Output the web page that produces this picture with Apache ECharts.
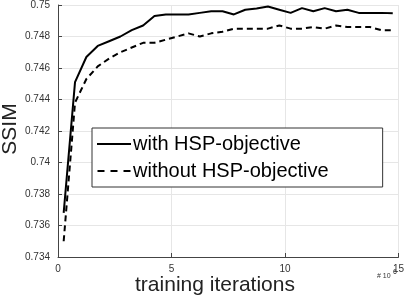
<!DOCTYPE html>
<html><head><meta charset="utf-8">
<script src="https://cdn.jsdelivr.net/npm/echarts@6/dist/echarts.min.js"></script>
<style>html,body{margin:0;padding:0;background:#fff}#c{width:407px;height:300px}</style>
</head><body><div id="c"></div>
<script>
const iterations = [0.25,0.75,1.25,1.75,2.25,2.75,3.25,3.75,4.25,4.75,5.25,5.75,6.25,6.75,7.25,7.75,8.25,8.75,9.25,9.75,10.25,10.75,11.25,11.75,12.25,12.75,13.25,13.75,14.25,14.75];
const withHSP = [0.7368,0.7451,0.7467,0.7474,0.7477,0.7480,0.7484,0.7487,0.7493,0.7494,0.7494,0.7494,0.7495,0.7496,0.7496,0.7494,0.7497,0.74978,0.7499,0.7497,0.7495,0.7498,0.7496,0.7498,0.7496,0.7497,0.7495,0.7495,0.7495,0.74947];
const withoutHSP = [0.7350,0.7438,0.7453,0.7461,0.7466,0.7470,0.7473,0.7476,0.7476,0.7478,0.7480,0.7482,0.7480,0.7482,0.7483,0.7485,0.7485,0.7485,0.7485,0.7487,0.7485,0.7485,0.7486,0.7485,0.7487,0.7486,0.7486,0.7486,0.7484,0.7484];
const seriesNames = ['with HSP-objective','without HSP-objective'];
const xTitle = 'training iterations';
const yTitle = 'SSIM';
const xExponent = '# 10';

const font = 'Liberation Sans, Arial, Helvetica, sans-serif';
const chart = echarts.init(document.getElementById('c'));
const pair = (xs, ys) => xs.map((x,i)=>[x, ys[i]]);
chart.setOption({
  animation:false,
  backgroundColor:'#fff',
  grid:{left:58,right:5.5,top:5,bottom:43},
  xAxis:{type:'value',min:0,max:15,interval:5,
    axisLine:{lineStyle:{color:'#444',width:1}},
    axisTick:{inside:true,length:4,lineStyle:{color:'#444'}},
    axisLabel:{fontFamily:font,fontSize:10,color:'#333',margin:7},
    splitLine:{lineStyle:{color:'#e6e6e6',width:1}}},
  yAxis:{type:'value',min:0.734,max:0.75,interval:0.002,
    axisLine:{show:true,lineStyle:{color:'#444',width:1}},
    axisTick:{show:true,inside:true,length:4,lineStyle:{color:'#444'}},
    axisLabel:{fontFamily:font,fontSize:10,color:'#333',margin:8,formatter:v=>String(+v.toFixed(3))},
    splitLine:{lineStyle:{color:'#e6e6e6',width:1}}},
  legend:{orient:'vertical',left:92,top:128,padding:[6,54,6,5],itemGap:7,
    backgroundColor:'#fff',borderColor:'#333',borderWidth:1,borderRadius:0,
    itemWidth:34,itemHeight:2,
    textStyle:{fontFamily:font,fontSize:20,color:'#000',padding:[0,0,0,-3]},
    data:[
      {name:seriesNames[0],icon:'path://M0,0h34v2h-34z',itemStyle:{color:'#000'}},
      {name:seriesNames[1],icon:'path://M0,0h7v2h-7zM13,0h7v2h-7zM26,0h7v2h-7z',itemStyle:{color:'#000'}}
    ]},
  graphic:[
    {type:'text',style:{text:xTitle,fontFamily:font,fontSize:21,fill:'#222',x:215,y:285,align:'center',verticalAlign:'middle'}},
    {type:'text',style:{text:yTitle,fontFamily:font,fontSize:21,fill:'#222',x:0,y:0,align:'center',verticalAlign:'middle'},x:10,y:129,rotation:Math.PI/2},
    {type:'text',style:{text:xExponent,fontFamily:font,fontSize:7,fill:'#333',x:377,y:276,verticalAlign:'middle'}},
    {type:'text',style:{text:'6',fontFamily:font,fontSize:7,fill:'#333',x:393,y:272,verticalAlign:'middle'}}
  ],
  series:[
    {name:seriesNames[0],type:'line',data:pair(iterations,withHSP),showSymbol:false,symbol:'none',
      lineStyle:{color:'#000',width:2},itemStyle:{color:'#000'}},
    {name:seriesNames[1],type:'line',data:pair(iterations,withoutHSP),showSymbol:false,symbol:'none',
      lineStyle:{color:'#000',width:2,type:[6,4]},itemStyle:{color:'#000'}}
  ]
});
</script></body></html>
